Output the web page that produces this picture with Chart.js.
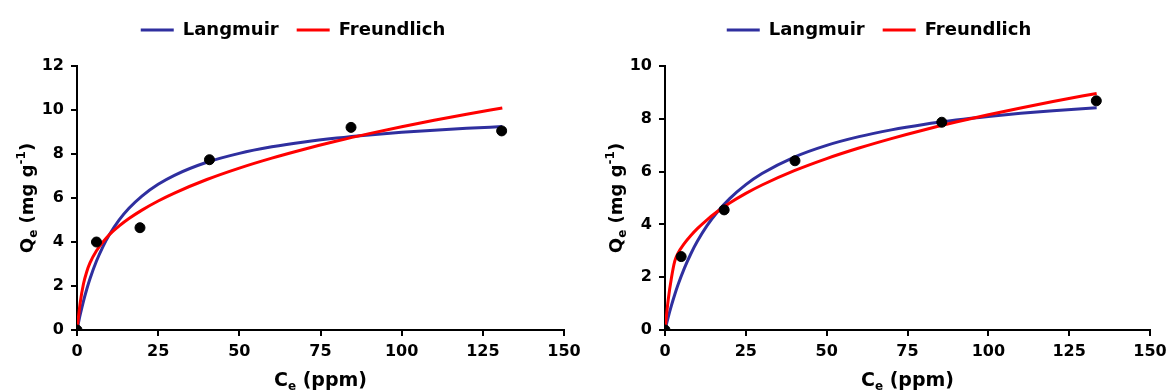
<!DOCTYPE html>
<html>
<head>
<meta charset="utf-8">
<script src="https://cdn.jsdelivr.net/npm/chart.js@4.4.0/dist/chart.umd.min.js"></script>
<style>
  html, body { margin: 0; padding: 0; background: #fff; }
  #wrap { display: flex; width: 1167px; height: 392px; }
  .panel { position: relative; height: 392px; }
</style>
</head>
<body>
<div id="wrap">
  <div class="panel" style="width:583px"><canvas id="isoA"></canvas></div>
  <div class="panel" style="width:584px"><canvas id="isoB"></canvas></div>
</div>
<script>
// --- data ---
const ceTicks = [0, 25, 50, 75, 100, 125, 150];
const qeTicksA = [0, 2, 4, 6, 8, 10, 12];
const qeTicksB = [0, 2, 4, 6, 8, 10];

// measured points
const ceObsA = [0, 6, 19.4, 40.8, 84.4, 130.8];
const qeObsA = [0, 4.0, 4.65, 7.74, 9.21, 9.05];
const ceObsB = [0, 5.0, 18.3, 40.2, 85.6, 133.4];
const qeObsB = [0, 2.78, 4.55, 6.41, 7.87, 8.68];

// fitted curves (sampled)
const ceFitA = [0, 1, 2, 3, 4, 6, 8, 10, 13, 16, 20, 25, 30, 40, 50, 60, 70, 80, 90, 100, 110, 120, 131];
const langmuirA = [0, 0.703, 1.315, 1.853, 2.330, 3.136, 3.793, 4.338, 5.001, 5.530, 6.087, 6.621, 7.032,
                   7.624, 8.030, 8.325, 8.550, 8.726, 8.868, 8.986, 9.084, 9.168, 9.246];
const freundlichA = [0, 1.25, 2.10, 2.65, 3.05, 3.60, 4.00, 4.34, 4.73, 5.065, 5.450, 5.864, 6.225,
                     6.841, 7.360, 7.813, 8.218, 8.588, 8.926, 9.239, 9.533, 9.808, 10.095];

const ceFitB = [0, 1, 2, 3, 4, 6, 8, 10, 13, 16, 20, 25, 30, 40, 50, 60, 70, 80, 90, 100, 110, 120, 133.5];
const langmuirB = [0, 0.491, 0.933, 1.335, 1.701, 2.344, 2.889, 3.359, 3.951, 4.441, 4.975, 5.505, 5.926,
                   6.551, 6.995, 7.325, 7.581, 7.785, 7.951, 8.089, 8.206, 8.306, 8.420];
const freundlichB = [0, 1.15, 1.98, 2.60, 2.90, 3.28, 3.58, 3.84, 4.175, 4.469, 4.809, 5.174, 5.493,
                     6.036, 6.494, 6.893, 7.251, 7.577, 7.876, 8.152, 8.411, 8.654, 8.962];

// --- styles ---
const FONT = '"DejaVu Sans", Verdana, sans-serif';
const BLUE = '#2f2f9f';
const RED = '#ff0000';

const pairs = (xs, ys) => xs.map((x, i) => ({ x: x, y: ys[i] }));

// extra room under the legend
const legendGap = {
    id: 'legendGap',
    beforeInit(chart) {
        const fit = chart.legend.fit;
        chart.legend.fit = function () {
            fit.bind(chart.legend)();
            this.height += 17;
        };
    }
};

// axis titles with sub/superscripts
function drawRich(ctx, parts, x, y, size) {
    const big = 'bold ' + size + 'px ' + FONT;
    const small = 'bold 12px ' + FONT;
    let total = 0;
    parts.forEach(p => {
        ctx.font = p.sub || p.sup ? small : big;
        p.w = ctx.measureText(p.t).width;
        total += p.w;
    });
    let cx = x - total / 2;
    ctx.textBaseline = 'middle';
    ctx.textAlign = 'left';
    parts.forEach(p => {
        ctx.font = p.sub || p.sup ? small : big;
        const dy = p.sub ? 6 : (p.sup ? -6 : 0);
        ctx.fillText(p.t, cx, y + dy);
        cx += p.w;
    });
}

const axisTitles = {
    id: 'axisTitles',
    afterDraw(chart, args, opts) {
        const { ctx, chartArea } = chart;
        ctx.save();
        ctx.fillStyle = '#000';
        drawRich(ctx, [{ t: 'C' }, { t: 'e', sub: true }, { t: ' (ppm)' }],
            (chartArea.left + chartArea.right) / 2, chartArea.bottom + 51, 19);
        ctx.translate(opts.yTitleX, (chartArea.top + chartArea.bottom) / 2);
        ctx.rotate(-Math.PI / 2);
        drawRich(ctx, [{ t: 'Q' }, { t: 'e', sub: true }, { t: ' (mg g' }, { t: '-1', sup: true }, { t: ')' }], 0, 0, 18);
        ctx.restore();
    }
};

function makeChart(id, ceObs, qeObs, ceFit, lang, freu, qeTicks, padLeft, yWidth, padRight, yTitleX) {
    const tickFont = { family: FONT, size: 16, weight: 'bold' };
    return new Chart(document.getElementById(id), {
        type: 'scatter',
        data: {
            datasets: [
                {
                    label: 'Data',
                    data: pairs(ceObs, qeObs),
                    backgroundColor: '#000',
                    borderColor: '#000',
                    pointRadius: 5,
                    showLine: false,
                    order: 0
                },
                {
                    label: 'Langmuir',
                    data: pairs(ceFit, lang),
                    borderColor: BLUE,
                    backgroundColor: BLUE,
                    borderWidth: 3,
                    pointRadius: 0,
                    showLine: true,
                    cubicInterpolationMode: 'monotone',
                    order: 2
                },
                {
                    label: 'Freundlich',
                    data: pairs(ceFit, freu),
                    borderColor: RED,
                    backgroundColor: RED,
                    borderWidth: 3,
                    pointRadius: 0,
                    showLine: true,
                    cubicInterpolationMode: 'monotone',
                    order: 1
                }
            ]
        },
        options: {
            responsive: true,
            maintainAspectRatio: false,
            animation: false,
            layout: { padding: { top: 3, right: padRight, bottom: 0, left: padLeft } },
            plugins: {
                tooltip: { enabled: false },
                axisTitles: { yTitleX: yTitleX },
                legend: {
                    position: 'top',
                    labels: {
                        color: '#000',
                        font: { family: FONT, size: 18, weight: 'bold' },
                        usePointStyle: true,
                        pointStyle: 'line',
                        pointStyleWidth: 33,
                        padding: 18,
                        filter: item => item.text !== 'Data',
                        sort: (a, b) => a.datasetIndex - b.datasetIndex
                    }
                }
            },
            scales: {
                x: {
                    type: 'linear',
                    min: ceTicks[0],
                    max: ceTicks[ceTicks.length - 1],
                    afterBuildTicks: s => { s.ticks = ceTicks.map(v => ({ value: v })); },
                    afterFit: s => {
                        s.height = 62;
                        // the layout padding already leaves room for the end labels
                        s.paddingLeft = 0;
                        s.paddingRight = 0;
                    },
                    border: { color: '#000', width: 2 },
                    grid: { drawOnChartArea: false, drawTicks: true, tickLength: 6, color: '#000', lineWidth: 2 },
                    ticks: { color: '#000', font: tickFont, padding: 6, maxRotation: 0 }
                },
                y: {
                    type: 'linear',
                    min: qeTicks[0],
                    max: qeTicks[qeTicks.length - 1],
                    afterBuildTicks: s => { s.ticks = qeTicks.map(v => ({ value: v })); },
                    afterFit: s => { s.width = yWidth; },
                    border: { color: '#000', width: 2 },
                    grid: { drawOnChartArea: false, drawTicks: true, tickLength: 6, color: '#000', lineWidth: 2 },
                    ticks: { color: '#000', font: tickFont, padding: 7 }
                }
            }
        },
        plugins: [legendGap, axisTitles]
    });
}

makeChart('isoA', ceObsA, qeObsA, ceFitA, langmuirA, freundlichA, qeTicksA, 22, 55, 19, 28);
makeChart('isoB', ceObsB, qeObsB, ceFitB, langmuirB, freundlichB, qeTicksB, 25, 57, 17, 34);
</script>
</body>
</html>
